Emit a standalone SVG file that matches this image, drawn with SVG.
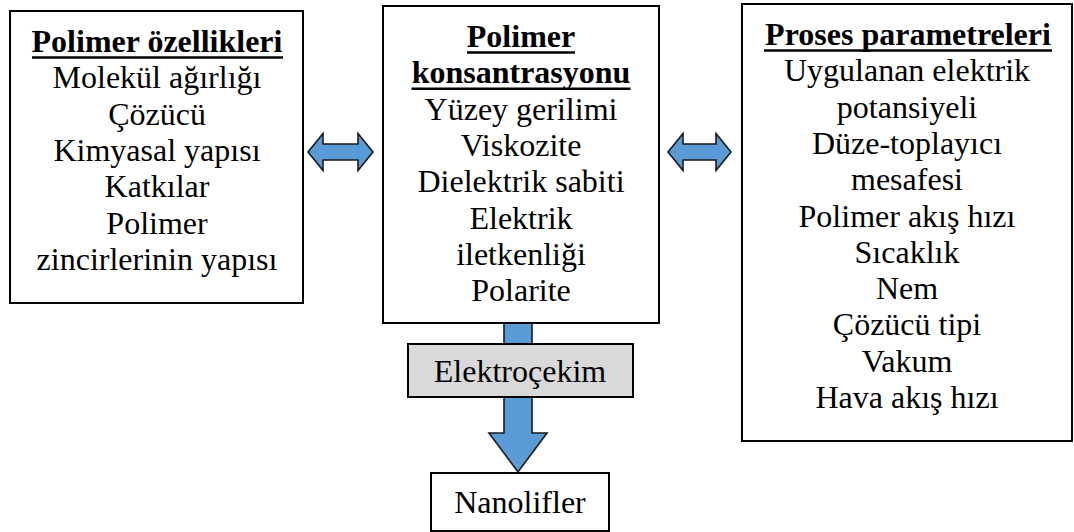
<svg xmlns="http://www.w3.org/2000/svg" width="1074" height="532" viewBox="0 0 1074 532">
  <style>
    .box { fill: #ffffff; stroke: #000000; stroke-width: 2; }
    .gbox { fill: #d9d9d9; stroke: #000000; stroke-width: 2; }
    .t { font-family: "Liberation Serif", "Times New Roman", serif; font-size: 32px; fill: #000000; text-anchor: middle; }
    .b { font-weight: bold; }
    .ul { stroke: #000000; stroke-width: 2.4; }
    .arr { fill: #5b9bd5; stroke: #1a1a1a; stroke-width: 1.6; stroke-linejoin: miter; }
  </style>
  <rect width="1074" height="532" fill="#ffffff"/>

  <g id="connectors">
    <path class="arr" d="M308,152 L323,133.5 L323,144 L358,144 L358,133.5 L373,152 L358,170.5 L358,160 L323,160 L323,170.5 Z"/>
    <path class="arr" d="M668,152 L683,133.5 L683,144 L716,144 L716,133.5 L731,152 L716,170.5 L716,160 L683,160 L683,170.5 Z"/>
    <path class="arr" d="M504,323 L532,323 L532,433 L547,433 L518,472 L489,433 L504,433 Z"/>
  </g>

  <g id="polimer-ozellikleri">
    <rect class="box" x="10" y="11" width="293" height="292"/>
    <text class="t b" x="157" y="52">Polimer özellikleri</text>
    <line class="ul" x1="32" y1="57.5" x2="283" y2="57.5"/>
    <text class="t" x="157" y="88.3">Molekül ağırlığı</text>
    <text class="t" x="157" y="124.6">Çözücü</text>
    <text class="t" x="157" y="160.9">Kimyasal yapısı</text>
    <text class="t" x="157" y="197.2">Katkılar</text>
    <text class="t" x="157" y="233.5">Polimer</text>
    <text class="t" x="157" y="269.8">zincirlerinin yapısı</text>
  </g>

  <g id="polimer-konsantrasyonu">
    <rect class="box" x="383" y="6" width="276" height="317"/>
    <text class="t b" x="521" y="47">Polimer</text>
    <line class="ul" x1="467" y1="52.5" x2="575" y2="52.5"/>
    <text class="t b" x="521" y="83.3">konsantrasyonu</text>
    <line class="ul" x1="411.5" y1="88.8" x2="630.5" y2="88.8"/>
    <text class="t" x="521" y="119.6">Yüzey gerilimi</text>
    <text class="t" x="521" y="155.9">Viskozite</text>
    <text class="t" x="521" y="192.2">Dielektrik sabiti</text>
    <text class="t" x="521" y="228.5">Elektrik</text>
    <text class="t" x="521" y="264.8">iletkenliği</text>
    <text class="t" x="521" y="301.1">Polarite</text>
  </g>

  <g id="proses-parametreleri">
    <rect class="box" x="742" y="4" width="330" height="437"/>
    <text class="t b" x="908" y="45">Proses parametreleri</text>
    <line class="ul" x1="764" y1="50.5" x2="1052" y2="50.5"/>
    <text class="t" x="907" y="81.3">Uygulanan elektrik</text>
    <text class="t" x="907" y="117.6">potansiyeli</text>
    <text class="t" x="907" y="153.9">Düze-toplayıcı</text>
    <text class="t" x="907" y="190.2">mesafesi</text>
    <text class="t" x="907" y="226.5">Polimer akış hızı</text>
    <text class="t" x="907" y="262.8">Sıcaklık</text>
    <text class="t" x="907" y="299.1">Nem</text>
    <text class="t" x="907" y="335.4">Çözücü tipi</text>
    <text class="t" x="907" y="371.7">Vakum</text>
    <text class="t" x="907" y="408">Hava akış hızı</text>
  </g>

  <g id="elektrocekim">
    <rect class="gbox" x="408" y="344" width="225" height="53"/>
    <text class="t" x="520" y="382">Elektroçekim</text>
  </g>

  <g id="nanolifler">
    <rect class="box" x="431" y="473" width="178" height="58"/>
    <text class="t" x="520" y="513">Nanolifler</text>
  </g>
</svg>
